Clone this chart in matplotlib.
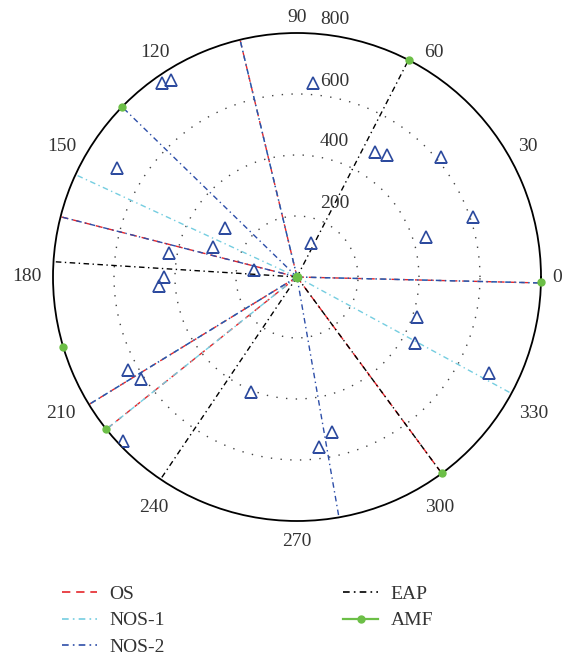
import numpy as np
import matplotlib.pyplot as plt
from matplotlib.lines import Line2D

plt.rcParams["font.family"] = ["Liberation Serif", "DejaVu Serif"]

# direction (deg) of each radial line, every line runs from the centre to r_max
r_max = 800
os_angles = [358.6, 103.5, 165.7, 211.5, 218.6, 306.4]
nos1_angles = [358.6, 103.5, 155.2, 211.5, 218.6, 331.5]
nos2_angles = [358.6, 103.5, 135.8, 165.7, 211.5, 279.9]
eap_angles = [62.8, 176.4, 236.0, 306.4]
amf_angles = [358.8, 62.8, 135.8, 196.6, 218.6, 306.4]

# open triangles (theta in deg, r)
tri_theta = [124.9, 122.5, 148.8, 145.6, 160.5, 169.5, 170.8, 179.9, 183.7,
             85.2, 58.1, 53.5, 39.9, 18.9, 17.1, 68.2,
             208.9, 213.2, 248.0, 223.4,
             341.7, 330.7, 333.4, 282.9, 277.3]
tri_r = [775, 766, 689, 286, 291, 426, 143, 436, 454,
         637, 484, 498, 614, 609, 442, 121,
         632, 613, 406, 783,
         414, 444, 705, 520, 561]

r_ticks = [200, 400, 600, 800]
theta_ticks = list(range(0, 360, 30))

labels = ["OS", "NOS-1", "NOS-2", "EAP", "AMF"]
colors = ["#e5262b", "#74cde0", "#2d4ea8", "black", "#6cbf47"]
styles = [(0, (5, 3.5)), (0, (4, 2.5, 1, 2.5)), (0, (4, 2.5, 1, 2.5)),
          (0, (4, 2.5, 1, 2.5)), "-"]
tri_color = "#2c4a9e"
text_color = "#333333"

fig = plt.figure(figsize=(5.71, 6.56), dpi=100)
ax = fig.add_axes([53 / 571, 135 / 656, 488 / 571, 488 / 656], projection="polar")

for angles, c, ls in zip([os_angles, nos1_angles, nos2_angles, eap_angles],
                         colors[:4], styles[:4]):
    for a in angles:
        t = np.deg2rad(a)
        ax.plot([t, t], [0, r_max], color=c, ls=ls, lw=1)

ax.plot(np.deg2rad(tri_theta), tri_r, "^", mfc="none", mec=tri_color,
        ms=8, mew=1.2, zorder=4)

ax.plot(np.deg2rad(amf_angles), [r_max] * len(amf_angles), "o",
        color=colors[4], ms=5, clip_on=False, zorder=6)
ax.plot([0], [0], "o", color=colors[4], ms=6, zorder=6)

ax.set_ylim(0, r_max)
ax.set_yticks(r_ticks[:-1])
ax.set_yticklabels([])
ax.set_xticks([])
ax.yaxis.grid(True, color="#444444", ls=(0, (1, 6)), lw=1)
ax.spines["polar"].set(lw=1.3, color="black")

# angle labels around the rim
gap = 11
for t in theta_ticks:
    a = np.deg2rad(t)
    c, s = np.cos(a), np.sin(a)
    ha = "left" if c > 0.1 else ("right" if c < -0.1 else "center")
    if s > 0.1:
        va, g = "baseline", gap
    elif s < -0.1:
        va, g = "top", gap + 1
    else:
        va, g = "center", gap
    ax.annotate(str(t), xy=(a, r_max), xytext=(g * c, g * s - 2 * abs(c) * (s > 0.1)),
                textcoords="offset pixels", ha=ha, va=va,
                fontsize=14, color=text_color, annotation_clip=False)

# radius labels just right of the 90 deg line
for r in r_ticks:
    ax.annotate(str(r), xy=(np.pi / 2, r), xytext=(23, 13),
                textcoords="offset pixels", ha="left", va="center",
                fontsize=14, color=text_color, annotation_clip=False)

handles = [Line2D([], [], color=c, ls=ls, lw=1.2) for c, ls in zip(colors[:4], styles[:4])]
handles.append(Line2D([], [], color=colors[4], lw=1.6, marker="o", ms=5))
fig.legend(handles, labels, ncol=2, loc="upper left",
           bbox_to_anchor=(62 / 571, 0.108), frameon=False, fontsize=14,
           handlelength=1.8, handletextpad=0.65, labelspacing=0.46,
           columnspacing=9.15, borderpad=0, borderaxespad=0,
           labelcolor=text_color)

fig.savefig("out.png", dpi=100)
